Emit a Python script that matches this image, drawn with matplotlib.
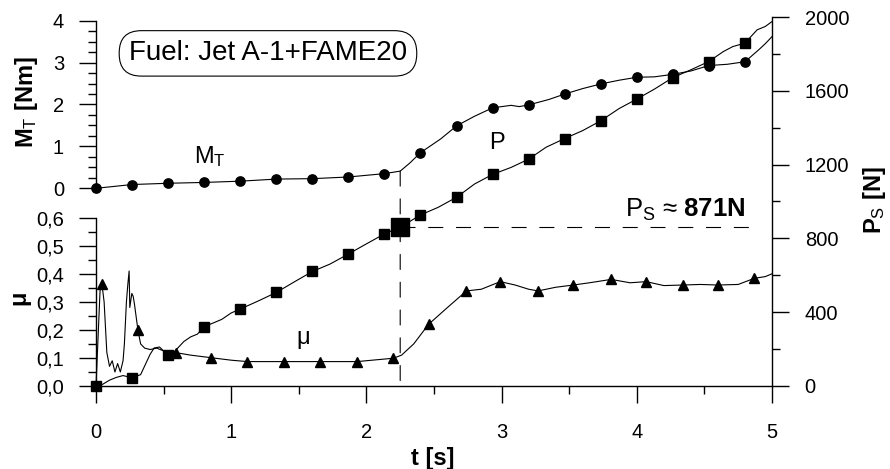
import numpy as np
import matplotlib.pyplot as plt
from matplotlib.patches import ConnectionPatch
from matplotlib.ticker import MultipleLocator, FuncFormatter

plt.rcParams['font.family'] = ['Liberation Sans', 'DejaVu Sans']
plt.rcParams['mathtext.fontset'] = 'custom'
plt.rcParams['mathtext.rm'] = 'Liberation Sans'
plt.rcParams['mathtext.bf'] = 'Liberation Sans:bold'
plt.rcParams['mathtext.it'] = 'Liberation Sans:italic'

# --- data ---
# torque M_T [Nm]
t_mt = [0, 0.267, 0.533, 0.8, 1.067, 1.333, 1.6, 1.867, 2.133, 2.25, 2.32, 2.4, 2.55,
        2.667, 2.8, 2.933, 3.07, 3.13, 3.2, 3.35, 3.467, 3.6, 3.733, 3.87, 4.0, 4.13,
        4.267, 4.4, 4.533, 4.67, 4.8, 4.9, 4.95, 5.0]
mt = [0.0, 0.09, 0.12, 0.14, 0.17, 0.22, 0.23, 0.27, 0.35, 0.41, 0.6, 0.85, 1.18,
      1.49, 1.72, 1.92, 1.98, 1.95, 1.99, 2.12, 2.25, 2.38, 2.49, 2.58, 2.65, 2.66,
      2.72, 2.8, 2.93, 2.96, 3.02, 3.3, 3.45, 3.62]
t_mt_mark = [0, 0.267, 0.533, 0.8, 1.067, 1.333, 1.6, 1.867, 2.133, 2.4, 2.667,
             2.933, 3.2, 3.467, 3.733, 4.0, 4.267, 4.533, 4.8]
mt_mark = [0.0, 0.09, 0.12, 0.14, 0.17, 0.22, 0.23, 0.27, 0.35, 0.85, 1.49,
           1.92, 1.99, 2.25, 2.49, 2.65, 2.72, 2.93, 3.02]

# friction coefficient mu [-]
t_mu = [0, 0.03, 0.044, 0.06, 0.08, 0.1, 0.12, 0.14, 0.16, 0.18, 0.2, 0.21, 0.225,
        0.235, 0.245, 0.25, 0.265, 0.275, 0.285, 0.31, 0.33, 0.36, 0.4, 0.45, 0.5,
        0.59, 0.7, 0.85, 1.0, 1.12, 1.39, 1.66, 1.93, 2.2, 2.26, 2.35, 2.46, 2.6,
        2.74, 2.85, 2.99, 3.1, 3.2, 3.27, 3.4, 3.53, 3.65, 3.81, 3.95, 4.07, 4.2,
        4.34, 4.47, 4.6, 4.75, 4.87, 4.95, 5.0]
mu = [0.0, 0.34, 0.363, 0.3, 0.12, 0.07, 0.09, 0.05, 0.08, 0.05, 0.09, 0.15, 0.3,
      0.36, 0.41, 0.28, 0.33, 0.32, 0.29, 0.2, 0.15, 0.135, 0.13, 0.135, 0.125,
      0.119, 0.11, 0.101, 0.092, 0.087, 0.087, 0.087, 0.087, 0.099, 0.11, 0.15,
      0.22, 0.28, 0.339, 0.345, 0.372, 0.36, 0.345, 0.339, 0.352, 0.36, 0.368,
      0.38, 0.368, 0.372, 0.358, 0.36, 0.362, 0.36, 0.362, 0.384, 0.39, 0.40]
t_mu_mark = [0.044, 0.31, 0.59, 0.85, 1.12, 1.39, 1.66, 1.93, 2.2, 2.46, 2.74,
             2.99, 3.27, 3.53, 3.81, 4.07, 4.34, 4.6, 4.87]
mu_mark = [0.363, 0.2, 0.119, 0.101, 0.087, 0.087, 0.087, 0.087, 0.099, 0.22,
           0.339, 0.372, 0.339, 0.36, 0.38, 0.372, 0.36, 0.36, 0.384]

# load P [N]
t_p = [0, 0.05, 0.1, 0.15, 0.2, 0.267, 0.33, 0.37, 0.4, 0.43, 0.47, 0.533, 0.58,
       0.65, 0.7, 0.75, 0.8, 0.93, 1.0, 1.067, 1.2, 1.333, 1.47, 1.6, 1.73, 1.867,
       2.0, 2.133, 2.25, 2.4, 2.53, 2.667, 2.8, 2.933, 3.07, 3.2, 3.33, 3.467, 3.6,
       3.733, 3.87, 4.0, 4.13, 4.267, 4.4, 4.533, 4.64, 4.71, 4.8, 4.89, 4.95, 5.0]
p = [0, 8, 30, 45, 55, 43, 60, 123, 170, 205, 210, 165, 185, 240, 265, 280, 320,
     360, 395, 416, 460, 506, 565, 620, 660, 715, 770, 824, 860, 927, 968, 1023,
     1095, 1147, 1185, 1230, 1295, 1342, 1385, 1438, 1505, 1556, 1610, 1673, 1715,
     1760, 1814, 1841, 1860, 1932, 1950, 1977]
t_p_mark = [0, 0.267, 0.533, 0.8, 1.067, 1.333, 1.6, 1.867, 2.133, 2.4, 2.667,
            2.933, 3.2, 3.467, 3.733, 4.0, 4.267, 4.533, 4.8]
p_mark = [0, 43, 165, 320, 416, 506, 620, 715, 824, 927, 1023, 1147, 1230, 1342,
          1438, 1556, 1673, 1760, 1860]

# seizure point
t_s = 2.25
p_s = 860
mt_s = 0.41
t_s_end = 4.91

fig = plt.figure(figsize=(8.9, 4.69), dpi=100)
W, H = 890, 469
x0, x1 = 96, 772


def box(top, bottom):
    return [x0 / W, 1 - bottom / H, (x1 - x0) / W, (bottom - top) / H]


ax_p = fig.add_axes(box(17.3, 385.7))
ax_m = fig.add_axes(box(20.7, 188.3))
ax_mu = fig.add_axes(box(217.7, 386.0))

for ax in (ax_p, ax_m, ax_mu):
    ax.set_xlim(0, 5)
    ax.patch.set_visible(False)
    for s in ax.spines.values():
        s.set_linewidth(1.0)

tick_font = 14.5

# right P axis + bottom t axis
ax_p.set_ylim(0, 2000)
ax_p.spines['left'].set_visible(False)
ax_p.spines['top'].set_visible(False)
ax_p.yaxis.tick_right()
ax_p.yaxis.set_major_locator(MultipleLocator(400))
ax_p.yaxis.set_minor_locator(MultipleLocator(200))
ax_p.xaxis.set_major_locator(MultipleLocator(1))
ax_p.xaxis.set_minor_locator(MultipleLocator(0.5))
ax_p.tick_params(axis='x', which='major', direction='out', length=12, width=1,
                 pad=15, labelsize=tick_font)
ax_p.tick_params(axis='x', which='minor', direction='out', length=5.5, width=1)
ax_p.tick_params(axis='y', which='major', direction='out', length=12, width=1,
                 pad=11.5, labelsize=tick_font)
ax_p.tick_params(axis='y', which='minor', direction='out', length=6, width=1)

# upper left M_T axis
ax_m.set_ylim(0, 4)
ax_m.yaxis.set_major_locator(MultipleLocator(1))
ax_m.yaxis.set_minor_locator(MultipleLocator(0.25))

# lower left mu axis
ax_mu.set_ylim(0, 0.6)
ax_mu.yaxis.set_major_locator(MultipleLocator(0.1))
ax_mu.yaxis.set_minor_locator(MultipleLocator(0.05))
ax_mu.yaxis.set_major_formatter(FuncFormatter(lambda v, pos: f'{v:.1f}'.replace('.', ',')))

for ax in (ax_m, ax_mu):
    for side in ('top', 'right', 'bottom'):
        ax.spines[side].set_visible(False)
    ax.tick_params(axis='x', which='both', bottom=False, labelbottom=False)
    ax.tick_params(axis='y', which='major', direction='out', length=12, width=1,
                   pad=11, labelsize=tick_font)
    ax.tick_params(axis='y', which='minor', direction='out', length=6, width=1)

lw = 0.8
ax_m.plot(t_mt, mt, color='black', lw=lw, clip_on=False)
ax_m.plot(t_mt_mark, mt_mark, 'o', color='black', ms=6.7, clip_on=False)
ax_mu.plot(t_mu, mu, color='black', lw=lw, clip_on=False)
ax_mu.plot(t_mu_mark, mu_mark, '^', color='black', ms=6.5, clip_on=False)
ax_p.plot(t_p, p, color='black', lw=lw, clip_on=False)
ax_p.plot(t_p_mark, p_mark, 's', color='black', ms=7, clip_on=False)
ax_p.plot([t_s], [p_s], 's', color='black', ms=12.5, clip_on=False)

# dashed guides at the seizure load
dash = (0, (13.5, 11.5))
ax_p.plot([t_s, t_s_end], [p_s, p_s], color='black', lw=lw, linestyle=dash)
con = ConnectionPatch(xyA=(t_s, mt_s), coordsA=ax_m.transData,
                      xyB=(t_s, 0), coordsB=ax_mu.transData,
                      color='black', lw=lw, linestyle=dash)
fig.add_artist(con)

# annotations
ax_m.text(1.272, 3.22, 'Fuel: Jet A-1+FAME20', fontsize=20, ha='center', va='center',
          bbox=dict(boxstyle='round,pad=0.35,rounding_size=0.8', fc='white', ec='black', lw=0.8))
ax_m.text(0.84, 0.75, r'M$_\mathrm{T}$', fontsize=17, ha='center', va='center')
ax_p.text(2.965, 1318, 'P', fontsize=17, ha='center', va='center')
ax_mu.text(1.53, 0.171, 'μ', fontsize=17, ha='center', va='center')
ax_p.text(3.913, 916, r'P$_\mathrm{S}$ ≈ $\mathbf{871N}$', fontsize=18.5,
          ha='left', va='baseline')

# axis titles
fig.text(433 / W, 1 - 458 / H, 't [s]', fontsize=17, fontweight='bold',
         ha='center', va='center')
fig.text(27 / W, 1 - 102 / H, r'$\mathbf{M}_\mathrm{T}\ \mathbf{[Nm]}$', fontsize=17,
         rotation=90, ha='center', va='center')
fig.text(19 / W, 1 - 298 / H, 'μ', fontsize=17, fontweight='bold', rotation=90,
         ha='center', va='center')
fig.text(875 / W, 1 - 200 / H, r'$\mathbf{P}_\mathrm{S}\ \mathbf{[N]}$', fontsize=17,
         rotation=90, ha='center', va='center')

fig.savefig('out.png', dpi=100)
